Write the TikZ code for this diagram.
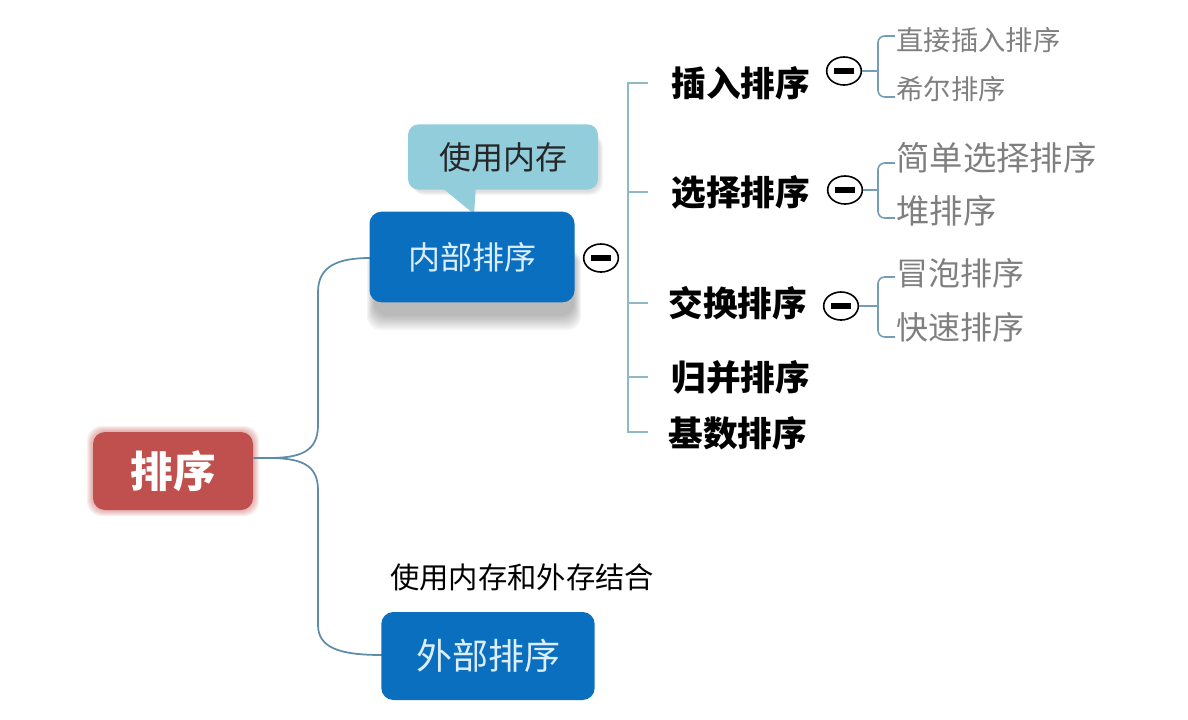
\documentclass[tikz,border=0pt]{standalone}
\usepackage{fontspec}
\newfontfamily\cjk{Noto Sans CJK SC}
\usetikzlibrary{shapes.geometric}
\definecolor{rootred}{HTML}{C0504D}
\definecolor{boxblue}{HTML}{0B6FC0}
\definecolor{callblue}{HTML}{92CDDC}
\definecolor{trunk}{HTML}{5E8CA8}
\definecolor{brk}{HTML}{8FB9C6}
\definecolor{subgray}{HTML}{7F7F7F}
\definecolor{boxtext}{HTML}{DCEEFB}
\begin{document}
\begin{tikzpicture}[x=0.75pt,y=-0.75pt,
  fs/.style={font=\cjk\fontsize{#1}{#1}\selectfont},
  bluebox/.style={fill=boxblue, rounded corners=9pt, text=boxtext, inner sep=0pt},
  lvltwo/.style={anchor=west, inner sep=1pt, font=\cjk\bfseries\fontsize{26}{26}\selectfont, text=black},
  leaf/.style={anchor=west, inner sep=1pt, text=subgray},
  minus/.style={ellipse, draw=black, line width=1.2pt, fill=white, minimum width=26pt, minimum height=21pt, inner sep=0pt,
    path picture={\fill[black] ([xshift=-7.5pt,yshift=-2.3pt]path picture bounding box.center) rectangle ([xshift=7.5pt,yshift=2.3pt]path picture bounding box.center);}},
  trunkline/.style={draw=trunk, line width=1.3pt},
  brkline/.style={draw=brk, line width=1.5pt},
  leafline/.style={draw=trunk!85, line width=1.2pt, rounded corners=5pt},
]
\useasboundingbox (0,0) rectangle (1188,719);

% glow and shadows
\foreach \k in {1,...,6}
  \fill[rootred, opacity=0.09, rounded corners=11pt] (93-\k,432-\k) rectangle (253+\k,510+\k);
\foreach \k in {0,...,7}
  \fill[black!70, opacity=0.06, rounded corners=10pt] (374-\k,250) rectangle (574+\k,316+2*\k);
\foreach \k in {0,...,3}
  \fill[black!60, opacity=0.06, rounded corners=9pt] (412,135) rectangle (600+\k,192+\k);

% nodes
\node[fill=rootred, rounded corners=9pt, minimum width=120pt, minimum height=58.5pt, inner sep=0pt,
      text=white, font=\cjk\bfseries\fontsize{32}{32}\selectfont] (root) at (173,471) {排序};

\coordinate (inwest) at (370,258);
\coordinate (outwest) at (382,655);

\draw[trunkline] ([yshift=9.75pt]root.east) -- (268,458) .. controls (300,458) and (318,452) .. (318,425)
   -- (318,292) .. controls (318,266) and (338,258) .. (inwest);
\draw[trunkline] (268,458) .. controls (300,458) and (318,464) .. (318,490)
   -- (318,625) .. controls (318,648) and (340,655) .. (outwest);

\fill[callblue] (440,186) -- (476,186) -- (474,214) -- cycle;
\node[fill=callblue, rounded corners=8pt, minimum width=142.5pt, minimum height=49pt, inner sep=0pt,
      text=black!85, fs=24] (call) at (503,157) {使用内存};

\node[bluebox, minimum width=153.75pt, minimum height=68pt, fs=24] (inner) at (472,257) {内部排序};
\node[bluebox, minimum width=160pt, minimum height=66pt, fs=27] (outer) at (488,656) {外部排序};
\node[text=black, fs=22, inner sep=0pt] (extnote) at (522,577) {使用内存和外存结合};

\node[minus] (m0) at (601,258) {};

% level 2
\node[lvltwo] (l1) at (670,83) {插入排序};
\node[lvltwo] (l2) at (670,192) {选择排序};
\node[lvltwo] (l3) at (667,303) {交换排序};
\node[lvltwo] (l4) at (670,377) {归并排序};
\node[lvltwo] (l5) at (667,433) {基数排序};

\draw[brkline] (648,83) -- (628,83) -- (628,432) -- (648,432);
\draw[brkline] (628,192) -- (648,192);
\draw[brkline] (628,303) -- (648,303);
\draw[brkline] (628,377) -- (648,377);

\node[minus] (m1) at (844,71) {};
\node[minus] (m2) at (845,190) {};
\node[minus] (m3) at (841,306) {};

% leaves
\node[leaf, fs=20.5] (s11) at (895,40) {直接插入排序};
\node[leaf, fs=20.5] (s12) at (895,89) {希尔排序};
\node[leaf, fs=25] (s21) at (895,158) {简单选择排序};
\node[leaf, fs=25] (s22) at (895,211) {堆排序};
\node[leaf, fs=24] (s31) at (895,273) {冒泡排序};
\node[leaf, fs=24] (s32) at (895,327) {快速排序};

\draw[leafline] (s11.west |- 0,36) -- (878,36) -- (878,97) -- (s12.west |- 0,97);
\draw[leafline] (m1.east) -- (878,71);
\draw[leafline] (s21.west |- 0,163) -- (878,163) -- (878,218) -- (s22.west |- 0,218);
\draw[leafline] (m2.east) -- (878,190);
\draw[leafline] (s31.west |- 0,277) -- (878,277) -- (878,337) -- (s32.west |- 0,337);
\draw[leafline] (m3.east) -- (878,306);
\end{tikzpicture}
\end{document}
